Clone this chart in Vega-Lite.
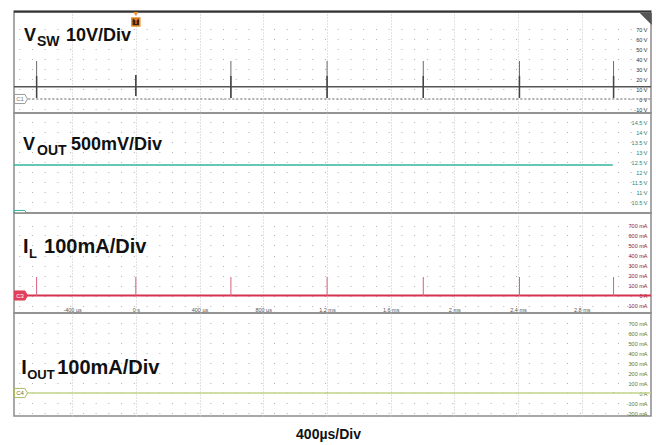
{
  "$schema": "https://vega.github.io/schema/vega-lite/v6.json",
  "padding": {"left": 9, "top": 10, "right": 0, "bottom": 0},
  "background": "white",
  "spacing": 0,
  "bounds": "flush",
  "title": {"text": "400µs/Div", "orient": "bottom", "anchor": "middle", "fontSize": 14, "fontWeight": "bold", "font": "Liberation Sans", "color": "#111111", "offset": 11, "dx": -4},
  "config": {"view": {"stroke": "#8c8c8c", "strokeWidth": 1.5}, "font": "Liberation Sans", "concat": {"spacing": 0}, "axis": {"labelOverlap": false, "labelSeparation": 0, "labelFlush": false}},
  "datasets": {
    "traces": [
      {"ch": "sw", "t": -765, "v": 12.2}, {"ch": "sw", "t": 3235, "v": 12.2},
      {"ch": "out", "t": -765, "v": 12.35}, {"ch": "out", "t": 2995, "v": 12.35},
      {"ch": "il", "t": -765, "v": 0}, {"ch": "il", "t": 3235, "v": 0},
      {"ch": "io", "t": -765, "v": 0}, {"ch": "io", "t": 3235, "v": 0}
    ],
    "spikes": [
      {"ch": "sw", "t": -623, "lo": 1, "hi": 38, "lo2": 1, "hi2": 23},
      {"ch": "sw", "t": 0, "lo": 3, "hi": 24, "lo2": 3, "hi2": 24},
      {"ch": "sw", "t": 597, "lo": 1, "hi": 38, "lo2": 1, "hi2": 23},
      {"ch": "sw", "t": 1201, "lo": 1, "hi": 38, "lo2": 1, "hi2": 23},
      {"ch": "sw", "t": 1805, "lo": 1, "hi": 38, "lo2": 1, "hi2": 23},
      {"ch": "sw", "t": 2409, "lo": 1, "hi": 38, "lo2": 1, "hi2": 23},
      {"ch": "sw", "t": 3000, "lo": 1, "hi": 38, "lo2": 1, "hi2": 23},
      {"ch": "il", "t": -623, "lo": -5, "hi": 185},
      {"ch": "il", "t": 0, "lo": -5, "hi": 185},
      {"ch": "il", "t": 597, "lo": -5, "hi": 185},
      {"ch": "il", "t": 1201, "lo": -5, "hi": 185},
      {"ch": "il", "t": 1805, "lo": -5, "hi": 185},
      {"ch": "il", "t": 2409, "lo": -5, "hi": 185},
      {"ch": "il", "t": 3000, "lo": -5, "hi": 185},
      {"ch": "io", "t": 1201, "lo": 0, "hi": 8},
      {"ch": "io", "t": 3000, "lo": 0, "hi": 8}
    ]
  },
  "vconcat": [
    {
      "width": 637, "height": 102,
      "layer": [
        {
          "data": {"name": "traces"},
          "transform": [{"filter": "datum.ch == 'sw'"}],
          "mark": {"type": "line", "color": "#555555", "strokeWidth": 1.5},
          "encoding": {
            "x": {"field": "t", "type": "quantitative", "scale": {"domain": [-765, 3235], "nice": false, "zero": false},
                  "axis": {"values": [-400, 0, 400, 800, 1200, 1600, 2000, 2400, 2800], "tickCount": 20, "labels": false, "ticks": false, "tickSize": 0, "domain": false, "grid": true, "gridColor": "#c4c4c4", "gridDash": [1, 2], "title": null}},
            "y": {"field": "v", "type": "quantitative", "scale": {"domain": [-14, 88], "nice": false, "zero": false},
                  "axis": {"orient": "right", "values": [-10, 0, 10, 20, 30, 40, 50, 60, 70], "tickCount": 20, "labelExpr": "datum.value + ' V'", "domain": false, "ticks": false, "tickSize": 0, "labelAlign": "right", "labelPadding": -4, "labelFontSize": 5.5, "labelColor": "#333333", "labelBaseline": "middle", "labelOverlap": false, "labelFlush": false, "labelBound": false, "grid": true, "gridColor": "#b0b0b0", "gridDash": [1, 11.74], "gridDashOffset": 5.7, "title": null}}
          }
        },
        {
          "data": {"name": "traces"},
          "transform": [{"filter": "datum.ch == 'sw'"}],
          "mark": {"type": "rule", "color": "#9a9a9a", "strokeWidth": 1, "strokeDash": [2, 2]},
          "encoding": {"x": {"datum": -700}, "x2": {"datum": 3235}, "y": {"datum": 0}}
        },
        {
          "data": {"name": "spikes"},
          "transform": [{"filter": "datum.ch == 'sw'"}],
          "mark": {"type": "rule", "color": "#6a6a6a", "strokeWidth": 1},
          "encoding": {"x": {"field": "t", "type": "quantitative"}, "y": {"field": "lo", "type": "quantitative"}, "y2": {"field": "hi"}}
        },
        {
          "data": {"name": "spikes"},
          "transform": [{"filter": "datum.ch == 'sw'"}],
          "mark": {"type": "rule", "color": "#444444", "strokeWidth": 1.5},
          "encoding": {"x": {"field": "t", "type": "quantitative"}, "y": {"field": "lo2", "type": "quantitative"}, "y2": {"field": "hi2"}}
        },
        {
          "data": {"values": [{}]},
          "mark": {"type": "rule", "color": "#333333", "strokeWidth": 2},
          "encoding": {"x": {"datum": -765}, "x2": {"datum": 3235}, "y": {"datum": 87.2}}
        },
        {
          "data": {"values": [{}]},
          "mark": {"type": "point", "shape": "M -1 -0.7 L 0.6 -0.7 L 1 0 L 0.6 0.7 L -1 0.7 Z", "size": 169, "filled": true, "fill": "white", "stroke": "#9a9a9a", "strokeWidth": 1, "opacity": 1},
          "encoding": {"x": {"datum": -721}, "y": {"datum": 0}}
        },
        {
          "data": {"values": [{}]},
          "mark": {"type": "text", "text": "C1", "fontSize": 6, "color": "#777777", "align": "center", "baseline": "middle", "dx": -1},
          "encoding": {"x": {"datum": -721}, "y": {"datum": 0}}
        },
        {
          "data": {"values": [{}]},
          "mark": {"type": "point", "shape": "triangle-down", "size": 24, "filled": true, "color": "#f0902a", "opacity": 1},
          "encoding": {"x": {"datum": 0}, "y": {"datum": 85}}
        },
        {
          "data": {"values": [{}]},
          "mark": {"type": "point", "shape": "square", "size": 64, "filled": true, "fill": "#3a2410", "stroke": "#f0902a", "strokeWidth": 1.5, "opacity": 1},
          "encoding": {"x": {"datum": 0}, "y": {"datum": 77}}
        },
        {
          "data": {"values": [{}]},
          "mark": {"type": "text", "text": "T", "fontSize": 7, "fontWeight": "bold", "color": "#f0902a", "align": "center", "baseline": "middle"},
          "encoding": {"x": {"datum": 0}, "y": {"datum": 77}}
        },
        {
          "data": {"values": [{}]},
          "mark": {"type": "point", "shape": "M -1 -1 L 1 -1 L 1 1 Z", "size": 144, "filled": true, "color": "#555555", "opacity": 1},
          "encoding": {"x": {"datum": 3202}, "y": {"datum": 80}}
        },
        {
          "data": {"values": [{}]},
          "mark": {"type": "text", "text": "V", "fontSize": 18, "fontWeight": "bold", "color": "#111111", "align": "left", "baseline": "alphabetic"},
          "encoding": {"x": {"datum": -702}, "y": {"datum": 58}}
        },
        {
          "data": {"values": [{}]},
          "mark": {"type": "text", "text": "SW", "fontSize": 14, "fontWeight": "bold", "color": "#111111", "align": "left", "baseline": "alphabetic", "dx": 13, "dy": 5},
          "encoding": {"x": {"datum": -702}, "y": {"datum": 58}}
        },
        {
          "data": {"values": [{}]},
          "mark": {"type": "text", "text": "10V/Div", "fontSize": 18, "fontWeight": "bold", "color": "#111111", "align": "left", "baseline": "alphabetic", "dx": 42},
          "encoding": {"x": {"datum": -702}, "y": {"datum": 58}}
        }
      ]
    },
    {
      "width": 637, "height": 100,
      "layer": [
        {
          "data": {"name": "traces"},
          "transform": [{"filter": "datum.ch == 'out'"}],
          "mark": {"type": "line", "color": "#33b5a0", "strokeWidth": 1.5},
          "encoding": {
            "x": {"field": "t", "type": "quantitative", "scale": {"domain": [-765, 3235], "nice": false, "zero": false},
                  "axis": {"values": [-400, 0, 400, 800, 1200, 1600, 2000, 2400, 2800], "tickCount": 20, "labels": false, "ticks": false, "tickSize": 0, "domain": false, "grid": true, "gridColor": "#c4c4c4", "gridDash": [1, 2], "title": null}},
            "y": {"field": "v", "type": "quantitative", "scale": {"domain": [9.95, 14.95], "nice": false, "zero": false},
                  "axis": {"orient": "right", "values": [10.5, 11, 11.5, 12, 12.5, 13, 13.5, 14, 14.5], "tickCount": 20, "labelExpr": "datum.value + ' V'", "domain": false, "ticks": false, "tickSize": 0, "labelAlign": "right", "labelPadding": -4, "labelFontSize": 5.5, "labelColor": "#1f7f7a", "labelBaseline": "middle", "labelOverlap": false, "labelFlush": false, "labelBound": false, "grid": true, "gridColor": "#b0b0b0", "gridDash": [1, 11.74], "gridDashOffset": 5.7, "title": null}}
          }
        },
        {
          "data": {"values": [{}]},
          "mark": {"type": "point", "shape": "M -1 -0.7 L 0.6 -0.7 L 1 0 L 0.6 0.7 L -1 0.7 Z", "size": 169, "filled": true, "fill": "white", "stroke": "#33b5a0", "strokeWidth": 1, "opacity": 1, "clip": true},
          "encoding": {"x": {"datum": -721}, "y": {"datum": 9.85}}
        },
        {
          "data": {"values": [{}]},
          "mark": {"type": "text", "text": "V", "fontSize": 18, "fontWeight": "bold", "color": "#111111", "align": "left", "baseline": "alphabetic"},
          "encoding": {"x": {"datum": -708}, "y": {"datum": 13.1}}
        },
        {
          "data": {"values": [{}]},
          "mark": {"type": "text", "text": "OUT", "fontSize": 14, "fontWeight": "bold", "color": "#111111", "align": "left", "baseline": "alphabetic", "dx": 14, "dy": 5},
          "encoding": {"x": {"datum": -708}, "y": {"datum": 13.1}}
        },
        {
          "data": {"values": [{}]},
          "mark": {"type": "text", "text": "500mV/Div", "fontSize": 18, "fontWeight": "bold", "color": "#111111", "align": "left", "baseline": "alphabetic", "dx": 48},
          "encoding": {"x": {"datum": -708}, "y": {"datum": 13.1}}
        }
      ]
    },
    {
      "width": 637, "height": 100,
      "layer": [
        {
          "data": {"name": "traces"},
          "transform": [{"filter": "datum.ch == 'il'"}],
          "mark": {"type": "line", "color": "#d6334f", "strokeWidth": 2},
          "encoding": {
            "x": {"field": "t", "type": "quantitative", "scale": {"domain": [-765, 3235], "nice": false, "zero": false},
                  "axis": {"values": [-400, 0, 400, 800, 1200, 1600, 2000, 2400, 2800], "tickCount": 20, "labels": true, "labelExpr": "datum.value == 0 ? '0 s' : (abs(datum.value) < 1000 ? datum.value + ' µs' : (datum.value / 1000) + ' ms')", "labelFontSize": 5.5, "labelColor": "#555555", "labelPadding": -4, "labelBaseline": "middle", "labelFlush": false, "labelOverlap": false, "ticks": false, "tickSize": 0, "domain": false, "grid": true, "gridColor": "#c4c4c4", "gridDash": [1, 2], "title": null}},
            "y": {"field": "v", "type": "quantitative", "scale": {"domain": [-175, 825], "nice": false, "zero": false},
                  "axis": {"orient": "right", "values": [-100, 0, 100, 200, 300, 400, 500, 600, 700], "tickCount": 20, "labelExpr": "datum.value == 0 ? '0 A' : datum.value + ' mA'", "domain": false, "ticks": false, "tickSize": 0, "labelAlign": "right", "labelPadding": -4, "labelFontSize": 5.5, "labelColor": "#8b2035", "labelBaseline": "middle", "labelOverlap": false, "labelFlush": false, "labelBound": false, "grid": true, "gridColor": "#b0b0b0", "gridDash": [1, 11.74], "gridDashOffset": 5.7, "title": null}}
          }
        },
        {
          "data": {"name": "spikes"},
          "transform": [{"filter": "datum.ch == 'il'"}],
          "mark": {"type": "rule", "color": "#d6607a", "strokeWidth": 1},
          "encoding": {"x": {"field": "t", "type": "quantitative"}, "y": {"field": "lo", "type": "quantitative"}, "y2": {"field": "hi"}}
        },
        {
          "data": {"values": [{}]},
          "mark": {"type": "point", "shape": "M -1 -0.7 L 0.6 -0.7 L 1 0 L 0.6 0.7 L -1 0.7 Z", "size": 169, "filled": true, "fill": "#e0405a", "stroke": "#e0405a", "strokeWidth": 1, "opacity": 1},
          "encoding": {"x": {"datum": -721}, "y": {"datum": 0}}
        },
        {
          "data": {"values": [{}]},
          "mark": {"type": "text", "text": "C3", "fontSize": 6, "color": "white", "align": "center", "baseline": "middle", "dx": -1},
          "encoding": {"x": {"datum": -721}, "y": {"datum": 0}}
        },
        {
          "data": {"values": [{}]},
          "mark": {"type": "text", "text": "I", "fontSize": 20, "fontWeight": "bold", "color": "#111111", "align": "left", "baseline": "alphabetic"},
          "encoding": {"x": {"datum": -708}, "y": {"datum": 425}}
        },
        {
          "data": {"values": [{}]},
          "mark": {"type": "text", "text": "L", "fontSize": 13, "fontWeight": "bold", "color": "#111111", "align": "left", "baseline": "alphabetic", "dx": 6, "dy": 5},
          "encoding": {"x": {"datum": -708}, "y": {"datum": 425}}
        },
        {
          "data": {"values": [{}]},
          "mark": {"type": "text", "text": "100mA/Div", "fontSize": 20, "fontWeight": "bold", "color": "#111111", "align": "left", "baseline": "alphabetic", "dx": 21},
          "encoding": {"x": {"datum": -708}, "y": {"datum": 425}}
        }
      ]
    },
    {
      "width": 637, "height": 103,
      "layer": [
        {
          "data": {"name": "traces"},
          "transform": [{"filter": "datum.ch == 'io'"}],
          "mark": {"type": "line", "color": "#c2d48a", "strokeWidth": 1.5},
          "encoding": {
            "x": {"field": "t", "type": "quantitative", "scale": {"domain": [-765, 3235], "nice": false, "zero": false},
                  "axis": {"values": [-400, 0, 400, 800, 1200, 1600, 2000, 2400, 2800], "tickCount": 20, "labels": false, "ticks": false, "tickSize": 0, "domain": false, "grid": true, "gridColor": "#c4c4c4", "gridDash": [1, 2], "title": null}},
            "y": {"field": "v", "type": "quantitative", "scale": {"domain": [-230, 800], "nice": false, "zero": false},
                  "axis": {"orient": "right", "values": [-200, -100, 0, 100, 200, 300, 400, 500, 600, 700], "tickCount": 20, "labelExpr": "datum.value == 0 ? '0 A' : datum.value + ' mA'", "domain": false, "ticks": false, "tickSize": 0, "labelAlign": "right", "labelPadding": -4, "labelFontSize": 5.5, "labelColor": "#667a2a", "labelBaseline": "middle", "labelOverlap": false, "labelFlush": false, "labelBound": false, "grid": true, "gridColor": "#b0b0b0", "gridDash": [1, 11.74], "gridDashOffset": 5.7, "title": null}}
          }
        },
        {
          "data": {"name": "spikes"},
          "transform": [{"filter": "datum.ch == 'io'"}],
          "mark": {"type": "rule", "color": "#a8bc6a", "strokeWidth": 1},
          "encoding": {"x": {"field": "t", "type": "quantitative"}, "y": {"field": "lo", "type": "quantitative"}, "y2": {"field": "hi"}}
        },
        {
          "data": {"values": [{}]},
          "mark": {"type": "point", "shape": "M -1 -0.7 L 0.6 -0.7 L 1 0 L 0.6 0.7 L -1 0.7 Z", "size": 169, "filled": true, "fill": "white", "stroke": "#a8bc6a", "strokeWidth": 1, "opacity": 1},
          "encoding": {"x": {"datum": -721}, "y": {"datum": 0}}
        },
        {
          "data": {"values": [{}]},
          "mark": {"type": "text", "text": "C4", "fontSize": 6, "color": "#667a2a", "align": "center", "baseline": "middle", "dx": -1},
          "encoding": {"x": {"datum": -721}, "y": {"datum": 0}}
        },
        {
          "data": {"values": [{}]},
          "mark": {"type": "text", "text": "I", "fontSize": 20, "fontWeight": "bold", "color": "#111111", "align": "left", "baseline": "alphabetic"},
          "encoding": {"x": {"datum": -720}, "y": {"datum": 190}}
        },
        {
          "data": {"values": [{}]},
          "mark": {"type": "text", "text": "OUT", "fontSize": 13, "fontWeight": "bold", "color": "#111111", "align": "left", "baseline": "alphabetic", "dx": 6, "dy": 5},
          "encoding": {"x": {"datum": -720}, "y": {"datum": 190}}
        },
        {
          "data": {"values": [{}]},
          "mark": {"type": "text", "text": "100mA/Div", "fontSize": 20, "fontWeight": "bold", "color": "#111111", "align": "left", "baseline": "alphabetic", "dx": 36},
          "encoding": {"x": {"datum": -720}, "y": {"datum": 190}}
        }
      ]
    }
  ]
}
